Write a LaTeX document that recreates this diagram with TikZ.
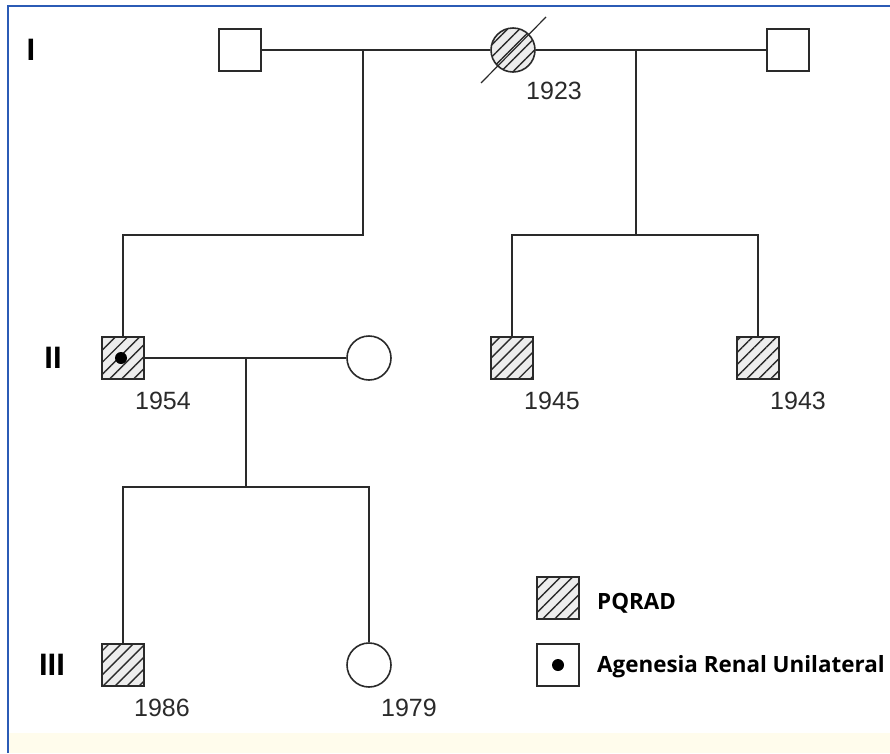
\documentclass[tikz,border=0pt]{standalone}
\usepackage{fontspec}
\setmainfont{Liberation Sans}
\newfontfamily\legendfont{Open Sans}
\usetikzlibrary{patterns.meta}
\definecolor{frameblue}{HTML}{2B5BB5}
\definecolor{stripyellow}{HTML}{FFFCEC}
\definecolor{ink}{HTML}{2A2A2A}
\begin{document}
\begin{tikzpicture}[x=1pt,y=-1pt,
  lw/.style={line width=1.6pt, draw=ink},
  male/.style={draw=ink, line width=1.6pt, rectangle, minimum size=42pt, inner sep=0pt, fill=white},
  female/.style={draw=ink, line width=1.6pt, circle, minimum size=44pt, inner sep=0pt, fill=white},
  affected/.style={preaction={fill=gray!14}, pattern={Lines[angle=45,distance=8.5pt,line width=1.4pt]}, pattern color=ink},
  year/.style={font=\fontsize{25}{25}\selectfont, text=ink, inner sep=0pt},
  gen/.style={font=\fontsize{31}{31}\selectfont\bfseries, inner sep=0pt},
  legtext/.style={font=\fontsize{22.4}{22.4}\selectfont\legendfont\bfseries, anchor=base west, inner sep=0pt},
  dotmark/.style={circle, fill=black, inner sep=0pt, minimum size=12pt}
]
\useasboundingbox (0,0) rectangle (890,753);
% background strip and frame
\fill[stripyellow] (9,733) rectangle (890,753);
\draw[frameblue, line width=2pt] (8,753) -- (8,6) -- (890,6);

% generation labels
\node[gen] (gI) at (31,50) {I};
\node[gen] (gII) at (53,358) {II};
\node[gen] (gIII) at (52,665) {III};

% generation I
\node[male] (a1) at (240,50) {};
\node[female, affected] (a2) at (513,50) {};
\node[male] (a3) at (788,50) {};
\coordinate (s1) at (481,83);
\coordinate (s2) at (546,17);
\draw[ink, line width=1.2pt] (s1) -- (s2);
\node[year] (y1923) at (554,91) {1923};
\coordinate (m1) at (363,50);
\coordinate (m2) at (636,50);
\draw[lw] (a1.east) -- (a2.west);
\draw[lw] (a2.east) -- (a3.west);

% generation II
\node[male, affected] (b1) at (123,358) {};
\node[dotmark] (b1dot) at (121,358) {};
\node[female] (b2) at (369,358) {};
\node[male, affected] (b3) at (512,358) {};
\node[male, affected] (b4) at (758,358) {};
\node[year] (y1954) at (163,401) {1954};
\node[year] (y1945) at (552,401) {1945};
\node[year] (y1943) at (798,401) {1943};
\coordinate (c1) at (363,235);
\coordinate (c2) at (636,235);
\draw[lw] (m1) -- (c1) -| (b1.north);
\draw[lw] (m2) -- (c2) -| (b3.north);
\draw[lw] (c2) -| (b4.north);
\draw[lw] (b1.east) -- (b2.west);
\coordinate (m3) at (246,358);
\coordinate (c3) at (246,487);

% generation III
\node[male, affected] (d1) at (123,665) {};
\node[female] (d2) at (369,665) {};
\node[year] (y1986) at (162,708) {1986};
\node[year] (y1979) at (409,708) {1979};
\draw[lw] (m3) -- (c3) -| (d1.north);
\draw[lw] (c3) -| (d2.north);

% legend
\node[male, affected] (l1) at (558,598) {};
\node[male] (l2) at (558,665) {};
\node[dotmark] (l2dot) at (558,665) {};
\node[legtext] (t1) at (597,609) {PQRAD};
\node[legtext] (t2) at (597,672) {Agenesia Renal Unilateral};
\end{tikzpicture}
\end{document}
